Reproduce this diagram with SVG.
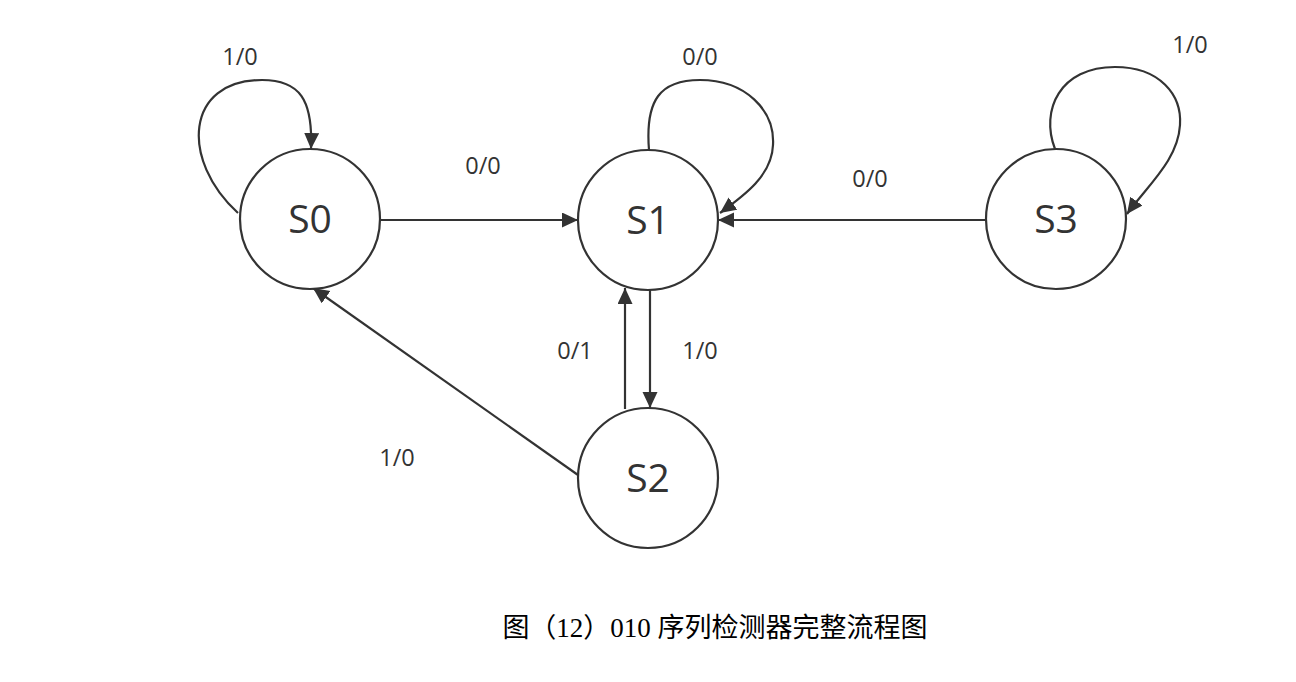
<svg xmlns="http://www.w3.org/2000/svg" width="1296" height="682" viewBox="0 0 1296 682">
<style>
.st{fill:#fff;stroke:#333;stroke-width:2.2}
.ln{fill:none;stroke:#333;stroke-width:2.2}
.lb{font-family:"Open Sans","Noto Sans",sans-serif;font-size:23.5px;fill:#333;text-anchor:middle}
.nm{font-family:"Open Sans","Noto Sans",sans-serif;font-size:39px;fill:#333;text-anchor:middle}
.cap{font-family:"Liberation Serif","Noto Sans CJK SC",serif;font-size:27px;fill:#000;text-anchor:middle}
</style>
<defs>
<marker id="ah" markerUnits="userSpaceOnUse" markerWidth="18" markerHeight="16" refX="16" refY="7.5" orient="auto">
<path d="M0,0 L16,7.5 L0,15 Z" fill="#333"/>
</marker>
</defs>
<rect width="1296" height="682" fill="#fff"/>
<g id="connectors">
<path class="ln" d="M238 213 C180 160 185 80 262 80 C300 80 313 100 311 149" marker-end="url(#ah)"/>
<path class="ln" d="M649 150 C645 100 660 80 700 80 C745 80 775 110 773 145 C772 175 745 195 720 213" marker-end="url(#ah)"/>
<path class="ln" d="M1055 149 C1040 110 1060 67 1115 67 C1160 67 1182 95 1180 125 C1178 160 1148 185 1127 214" marker-end="url(#ah)"/>
<line class="ln" x1="380" y1="220" x2="578" y2="220" marker-end="url(#ah)"/>
<line class="ln" x1="986" y1="220" x2="718" y2="220" marker-end="url(#ah)"/>
<line class="ln" x1="650" y1="290" x2="650" y2="408" marker-end="url(#ah)"/>
<line class="ln" x1="625" y1="409" x2="625" y2="288" marker-end="url(#ah)"/>
<line class="ln" x1="578" y1="475" x2="313" y2="288" marker-end="url(#ah)"/>
<text class="lb" x="240" y="65">1/0</text>
<text class="lb" x="700" y="65">0/0</text>
<text class="lb" x="1190" y="53">1/0</text>
<text class="lb" x="483" y="174">0/0</text>
<text class="lb" x="870" y="187">0/0</text>
<text class="lb" x="575" y="359">0/1</text>
<text class="lb" x="700" y="359">1/0</text>
<text class="lb" x="397" y="466">1/0</text>
</g>
<g id="S0"><circle class="st" cx="310" cy="219" r="70"/><text class="nm" x="310" y="233">S0</text></g>
<g id="S1"><circle class="st" cx="648" cy="220" r="70"/><text class="nm" x="648" y="234">S1</text></g>
<g id="S2"><circle class="st" cx="648" cy="478" r="70"/><text class="nm" x="648" y="492">S2</text></g>
<g id="S3"><circle class="st" cx="1056" cy="219" r="70"/><text class="nm" x="1056" y="233">S3</text></g>
<text class="cap" x="715" y="637">图（12）010 序列检测器完整流程图</text>
</svg>
